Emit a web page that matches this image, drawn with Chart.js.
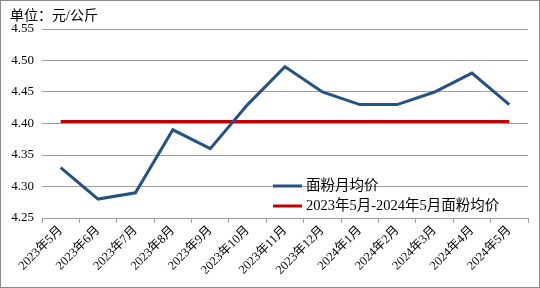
<!DOCTYPE html>
<html><head><meta charset="utf-8">
<script src="https://cdn.jsdelivr.net/npm/chart.js@4/dist/chart.umd.min.js"></script>
<style>html,body{margin:0;padding:0;background:#fff}#c{display:block}</style>
</head><body>
<canvas id="c" width="540" height="288"></canvas>
<script>
const categories = ['2023年5月','2023年6月','2023年7月','2023年8月','2023年9月','2023年10月','2023年11月','2023年12月','2024年1月','2024年2月','2024年3月','2024年4月','2024年5月'];
const monthlyPrice = [4.33,4.28,4.29,4.39,4.36,4.43,4.49,4.45,4.43,4.43,4.45,4.48,4.43];
const avgPrice = [4.403,4.403,4.403,4.403,4.403,4.403,4.403,4.403,4.403,4.403,4.403,4.403,4.403];
const seriesNames = ['面粉月均价','2023年5月-2024年5月面粉均价'];
const unitLabel = '单位：元/公斤';
const yTicks = [4.25,4.30,4.35,4.40,4.45,4.50,4.55];

const FONT = '"Liberation Serif","Noto Sans CJK SC",serif';
const BLUE = '#245284', RED = '#C00000';

const deco = {
  id:'deco',
  beforeDraw(chart){
    const ctx = chart.ctx;
    ctx.save();
    ctx.fillStyle = '#fff';
    ctx.fillRect(0,0,chart.width,chart.height);
    ctx.restore();
  },
  afterDraw(chart){
    const ctx = chart.ctx;
    ctx.save();
    ctx.strokeStyle = '#8c8c8c';
    ctx.lineWidth = 1;
    ctx.strokeRect(0.5,0.5,chart.width-1,chart.height-1);
    ctx.fillStyle = '#000';
    ctx.font = '14px ' + FONT;
    ctx.textBaseline = 'middle';
    ctx.fillText(unitLabel, 10, 16);
    // legend
    const items = [{c:BLUE,t:seriesNames[0],y:186},{c:RED,t:seriesNames[1],y:206}];
    ctx.font = '14.5px ' + FONT;
    items.forEach(it=>{
      ctx.strokeStyle = it.c; ctx.lineWidth = 3;
      ctx.beginPath(); ctx.moveTo(273,it.y); ctx.lineTo(302,it.y); ctx.stroke();
      ctx.fillStyle = '#000';
      ctx.fillText(it.t, 306, it.y);
    });
    ctx.restore();
  }
};

new Chart(document.getElementById('c'), {
  type:'line',
  data:{
    labels:categories,
    datasets:[
      {label:seriesNames[0],data:monthlyPrice,borderColor:BLUE,borderWidth:3,pointRadius:0,tension:0,order:1},
      {label:seriesNames[1],data:avgPrice,borderColor:RED,borderWidth:3,pointRadius:0,tension:0,order:2}
    ]
  },
  options:{
    responsive:false,animation:false,
    layout:{padding:{top:29,right:12,left:0,bottom:0}},
    plugins:{legend:{display:false},tooltip:{enabled:false}},
    scales:{
      x:{
        offset:true,
        grid:{offset:true,drawOnChartArea:false,drawTicks:true,tickLength:5,color:'#a0a0a0'},
        border:{color:'#a0a0a0'},
        ticks:{color:'#000',font:{family:FONT,size:12.5},maxRotation:45,minRotation:45,autoSkip:false,padding:0},
        afterFit(s){s.height=70;}
      },
      y:{
        min:4.25,max:4.55,
        afterBuildTicks(s){s.ticks = yTicks.map(v=>({value:v}));},
        grid:{color:'#a0a0a0',drawTicks:false},
        border:{display:false},
        ticks:{color:'#000',font:{family:FONT,size:13},padding:8,callback:v=>v.toFixed(2)},
        afterFit(s){s.width=42;}
      }
    }
  },
  plugins:[deco]
});
</script>
</body></html>
